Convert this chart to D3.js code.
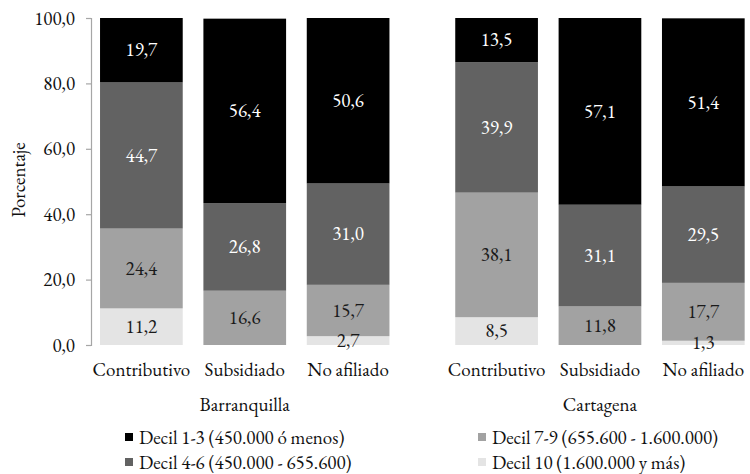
<!DOCTYPE html>
<html><head><meta charset="utf-8">
<script src="https://cdn.jsdelivr.net/npm/d3@7"></script>
<style>body{margin:0;background:#fff;}</style>
</head>
<body><svg id="chart" width="750" height="474"></svg>
<script>
const cities = ["Barranquilla", "Cartagena"];
const categories = ["Contributivo", "Subsidiado", "No afiliado"];
const seriesNames = ["Decil 10 (1.600.000 y más)", "Decil 7-9 (655.600 - 1.600.000)", "Decil 4-6 (450.000 - 655.600)", "Decil 1-3 (450.000 ó menos)"];
// values per city, per category, in series order (bottom to top)
const barranquilla = [[11.2, 24.4, 44.7, 19.7], [0, 16.6, 26.8, 56.4], [2.7, 15.7, 31.0, 50.6]];
const cartagena = [[8.5, 38.1, 39.9, 13.5], [0, 11.8, 31.1, 57.1], [1.3, 17.7, 29.5, 51.4]];
const yTicks = [0, 20, 40, 60, 80, 100];
const legendOrder = [3, 2, 1, 0];

const FONT = "EB Garamond";
const FS = 19;
const colors = ["#e4e4e4", "#a2a2a2", "#626262", "#000000"];
const textColors = ["#1a1a1a", "#1a1a1a", "#ffffff", "#ffffff"];
const fmt = v => d3.format(".1f")(v).replace(".", ",");

const svg = d3.select("#chart");
const y = d3.scaleLinear().domain([0, 100]).range([345, 18]);
const outer = d3.scaleBand().domain(cities).range([89.7, 755]).paddingInner(0.127);
const inner = d3.scaleBand().domain(categories).range([0, outer.bandwidth()]).paddingInner(0.2).paddingOuter(0.1);

const data = {Barranquilla: barranquilla, Cartagena: cartagena};

// axis
const yAxis = d3.axisLeft(y).tickValues(yTicks).tickSize(5).tickPadding(11).tickFormat(fmt);
const ax = svg.append("g").attr("transform", "translate(91,0)").call(yAxis);
ax.attr("font-family", FONT).attr("font-size", FS);
ax.select(".domain").attr("stroke", "#a6a6a6").attr("stroke-width", 1.2);
ax.selectAll(".tick line").attr("stroke", "#a6a6a6").attr("stroke-width", 1.2);
ax.selectAll(".tick text").attr("font-family", FONT).attr("font-size", FS).attr("fill", "#111");

svg.append("text").attr("transform", "translate(25,180) rotate(-90)")
  .attr("font-family", FONT).attr("text-anchor", "middle").attr("font-size", FS).attr("fill", "#111").text("Porcentaje");

cities.forEach(city => {
  const g = svg.append("g").attr("transform", `translate(${outer(city)},0)`);
  data[city].forEach((vals, ci) => {
    const cat = categories[ci];
    let cum = 0;
    vals.forEach((v, si) => {
      const y0 = cum, y1 = cum + v;
      cum = y1;
      if (v <= 0) return;
      g.append("rect").attr("x", inner(cat)).attr("width", inner.bandwidth())
        .attr("y", y(y1)).attr("height", y(y0) - y(y1)).attr("fill", colors[si]);
    });
    cum = 0;
    vals.forEach((v, si) => {
      const y0 = cum, y1 = cum + v;
      cum = y1;
      if (v <= 0) return;
      g.append("text").attr("x", inner(cat) + inner.bandwidth() / 2)
        .attr("y", y((y0 + y1) / 2)).attr("dy", "0.33em").attr("text-anchor", "middle")
        .attr("font-family", FONT).attr("font-size", FS).attr("fill", textColors[si])
        .text(fmt(v));
    });
    g.append("text").attr("x", inner(cat) + inner.bandwidth() / 2).attr("y", 376)
      .attr("font-family", FONT).attr("text-anchor", "middle").attr("font-size", FS).attr("fill", "#111").text(cat);
  });
  g.append("text").attr("x", outer.bandwidth() / 2).attr("y", 411)
    .attr("font-family", FONT).attr("text-anchor", "middle").attr("font-size", FS).attr("fill", "#111").text(city);
});

// legend
const legX = [125, 478], legY = [438, 463];
legendOrder.forEach((si, i) => {
  const col = Math.floor(i / 2), row = i % 2;
  const lg = svg.append("g").attr("transform", `translate(${legX[col]},${legY[row]})`);
  lg.append("rect").attr("x", 0).attr("y", -5).attr("width", 8).attr("height", 8).attr("fill", colors[si]);
  lg.append("text").attr("x", 14).attr("y", 0).attr("dy", "0.33em")
    .attr("font-family", FONT).attr("font-size", FS).attr("fill", "#111").text(seriesNames[si]);
});
</script></body></html>
